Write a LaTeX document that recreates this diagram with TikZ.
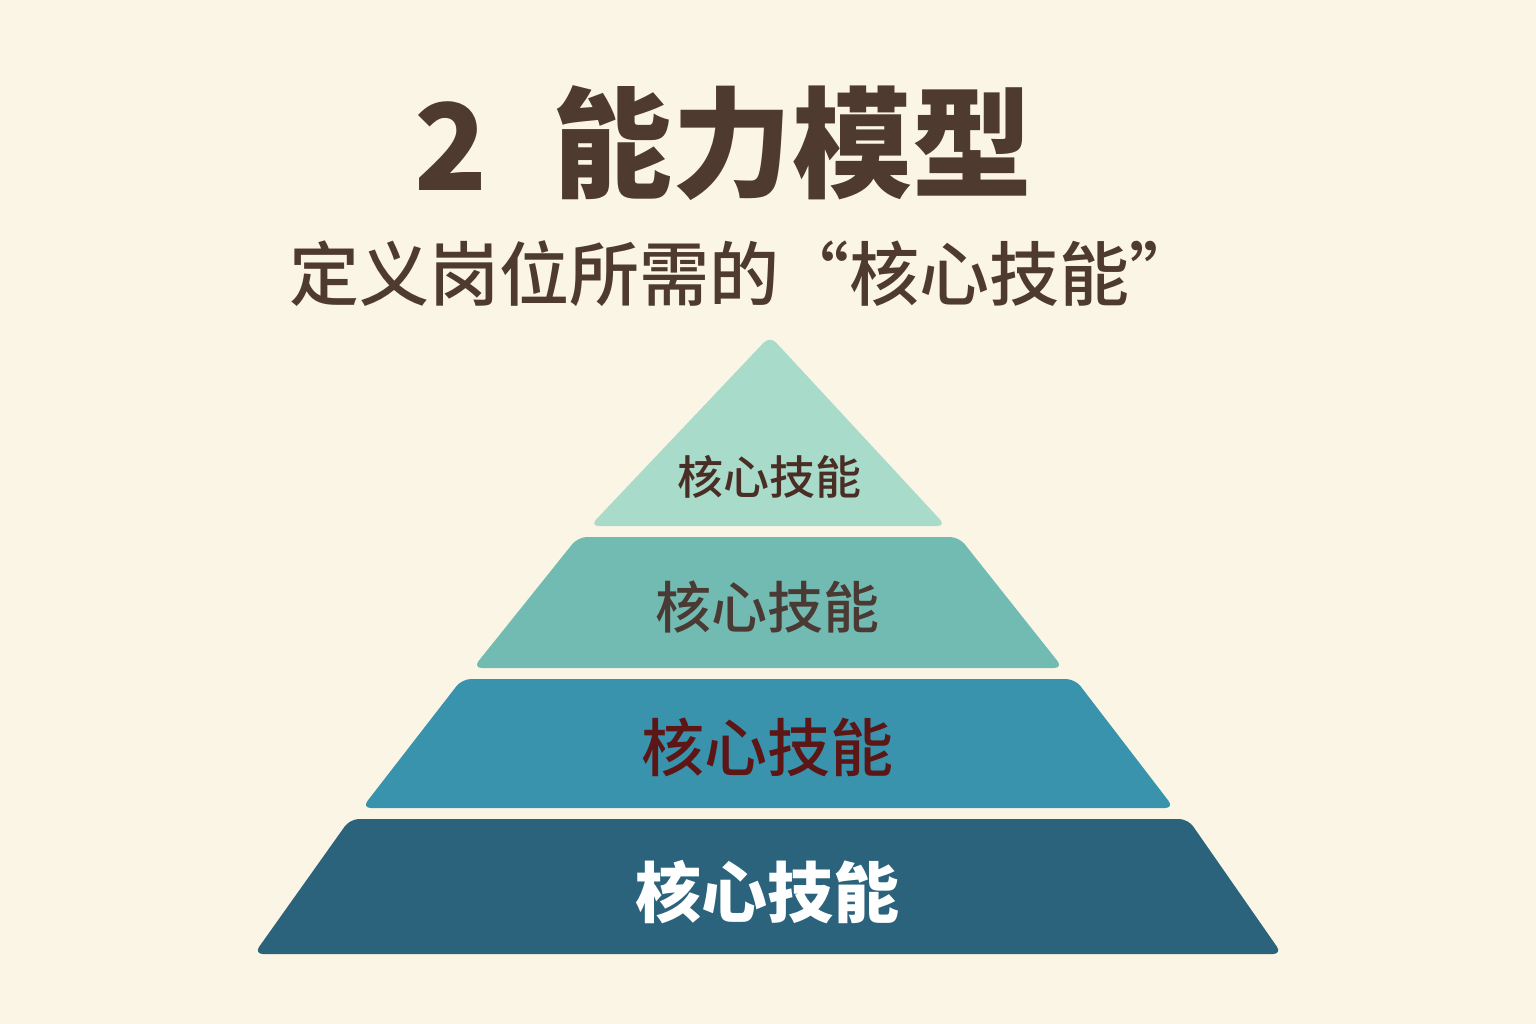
\documentclass[tikz,border=0pt]{standalone}
\usepackage{fontspec}
\newfontfamily\cjk{Noto Sans CJK SC}
\newfontfamily\cjkmed{Noto Sans CJK SC}[UprightFont={* Medium}]
\definecolor{bg}{HTML}{FBF5E6}
\definecolor{brown}{HTML}{4E3A2F}
\definecolor{lay1}{HTML}{A8DBC9}
\definecolor{lay2}{HTML}{72BBB3}
\definecolor{lay3}{HTML}{3993AC}
\definecolor{lay4}{HTML}{2B637C}
\definecolor{txt1}{HTML}{4A2E25}
\definecolor{txt2}{HTML}{4B3A33}
\definecolor{txt3}{HTML}{5C1616}
\tikzset{
  layer/.style={rounded corners=9pt, draw=none},
  lbl/.style={anchor=base, inner sep=0pt, font=\cjk\bfseries},
}
\begin{document}
\begin{tikzpicture}[x=1pt,y=-1pt]
\fill[bg] (0,0) rectangle (1536,1024);
\useasboundingbox (0,0) rectangle (1536,1024);
% title
\node[lbl, text=brown, font=\cjk\bfseries\fontsize{120}{130}\selectfont] (num) at (451,191) {2};
\node[lbl, text=brown, font=\cjk\bfseries\fontsize{120}{130}\selectfont] (title) at (792,189) {能力模型};
\node[lbl, text=brown, font=\cjkmed\fontsize{70}{75}\selectfont] (sub) at (744,300) {定义岗位所需的“核心技能”};
% pyramid
\fill[layer, lay1] (770,336) -- (946,526) -- (590,526) -- cycle;
\fill[layer, lay2] (578,537) -- (959,537) -- (1063,668) -- (473,668) -- cycle;
\fill[layer, lay3] (462,679) -- (1075,679) -- (1174,808) -- (362,808) -- cycle;
\fill[layer, lay4] (350,819) -- (1188,819) -- (1282,954) -- (254,954) -- cycle;
\node[lbl, text=txt1, font=\cjkmed\fontsize{46}{50}\selectfont] (l1) at (769,494) {核心技能};
\node[lbl, text=txt2, font=\cjkmed\fontsize{56}{60}\selectfont] (l2) at (767,628) {核心技能};
\node[lbl, text=txt3, font=\cjkmed\fontsize{63}{68}\selectfont] (l3) at (767,771) {核心技能};
\node[lbl, text=white, font=\cjk\bfseries\fontsize{66}{70}\selectfont] (l4) at (767,917) {核心技能};
\end{tikzpicture}
\end{document}
